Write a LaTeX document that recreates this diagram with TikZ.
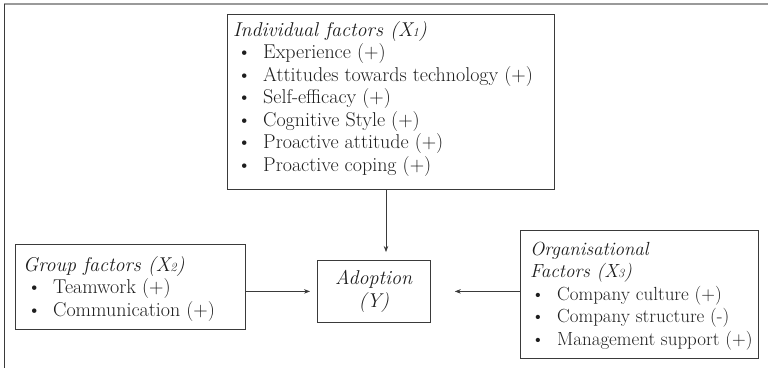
\documentclass[tikz,border=0pt]{standalone}
\usepackage{fontspec}
\usetikzlibrary{arrows.meta}
\definecolor{ink}{HTML}{1E1E1E}
\definecolor{edge}{HTML}{3A3A3A}
\definecolor{frame}{HTML}{9A9A9A}
\newcommand{\bul}[1]{\hspace{#1}\makebox[26pt][l]{\textbullet}}
\newcommand{\subn}[1]{{\fontsize{12.5}{12}\selectfont #1}}
\begin{document}
\begin{tikzpicture}[x=1pt,y=-1pt,
  box/.style={draw=edge, line width=0.8pt, anchor=north west, inner sep=0pt},
  txt/.style={anchor=north west, inner sep=0pt, align=left, text=ink,
    font=\fontsize{20}{22.5}\selectfont},
  arr/.style={draw=edge, line width=0.7pt, -{Stealth[length=6pt,width=4.5pt]}}]
\useasboundingbox (0,0) rectangle (768,368);
\draw[frame, line width=1.4pt] (4,4) -- (768,4);
\draw[edge, line width=1pt] (4,4) -- (4,368);

% boxes
\node[box, minimum width=327pt, minimum height=175pt] (ind) at (227,14) {};
\node[box, minimum width=230pt, minimum height=85pt] (grp) at (15,244) {};
\node[box, minimum width=113pt, minimum height=62pt] (adop) at (317,260) {};
\node[box, minimum width=238pt, minimum height=128pt] (org) at (520,230) {};

% texts
\node[txt] (indt) at (233,20.25)
 {\strut\textit{Individual factors (X\subn{1})}\\
  \bul{4pt}Experience (+)\\
  \bul{4pt}Attitudes towards technology (+)\\
  \bul{4pt}Self-efficacy (+)\\
  \bul{4pt}Cognitive Style (+)\\
  \bul{4pt}Proactive attitude (+)\\
  \bul{4pt}Proactive coping (+)};

\node[txt] (grpt) at (23,255.25)
 {\strut\textit{Group factors (X\subn{2})}\\
  \bul{4pt}Teamwork (+)\\
  \bul{4pt}Communication (+)};

\node[txt, anchor=center, align=center, font=\fontsize{20}{23}\selectfont] (adopt) at (adop.center)
 {\textit{Adoption}\\\textit{(Y)}};

\node[txt, font=\fontsize{19}{22.5}\selectfont] (orgt) at (530,239.25)
 {\strut\textit{Organisational}\\
  \textit{Factors (X\subn{3})}\\
  \bul{1pt}Company culture (+)\\
  \bul{1pt}Company structure (-)\\
  \bul{1pt}Management support (+)};

% connectors
\coordinate (vx) at (386,0);
\draw[arr] (ind.south -| vx) -- ([yshift=8pt]adop.north -| vx);
\draw[arr] (adop.west -| grp.east) -- ([xshift=-7pt]adop.west);
\draw[arr] (adop.east -| org.west) -- ([xshift=24pt]adop.east);
\end{tikzpicture}
\end{document}
